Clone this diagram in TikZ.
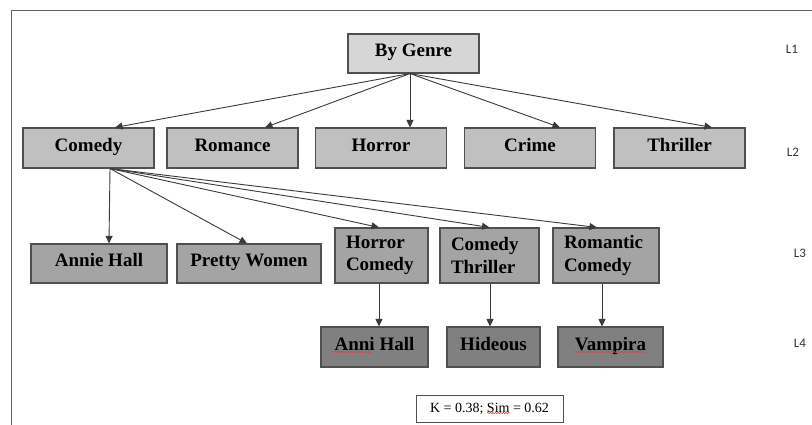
\documentclass[tikz,border=0pt]{standalone}
\usepackage{fontspec}
\setmainfont{Liberation Serif}
\newfontfamily\labfont{Carlito}
\usetikzlibrary{arrows.meta,decorations.pathmorphing}
\definecolor{cA}{HTML}{D6D6D6}
\definecolor{cB}{HTML}{C0C0C0}
\definecolor{cC}{HTML}{A4A4A4}
\definecolor{cD}{HTML}{808080}
\definecolor{bord}{HTML}{505050}
\definecolor{lin}{HTML}{3A3A3A}
\definecolor{labc}{HTML}{333333}
\definecolor{framec}{HTML}{606060}
\definecolor{wavc}{HTML}{D04848}
\begin{document}
\begin{tikzpicture}[x=1pt,y=-1pt,
  box/.style={draw=bord, line width=1.1pt, inner sep=0pt,
    font=\fontsize{19}{22}\selectfont\bfseries,
    text height=12.5pt, text depth=6pt, align=center},
  tbox/.style={draw=bord, line width=1.1pt, inner ysep=0pt, inner xsep=11pt,
    font=\fontsize{19}{22.5}\selectfont\bfseries, align=left,
    minimum height=55pt, fill=cC},
  arr/.style={draw=lin, line width=0.9pt, -{Triangle[length=7.5pt,width=7pt]}},
  lab/.style={font=\labfont\fontsize{13}{15}\selectfont, text=labc, inner sep=0pt},
  wav/.style={draw=wavc, line width=0.6pt, decorate,
    decoration={snake, amplitude=0.7pt, segment length=2.6pt}},
  frame/.style={draw=framec, line width=1pt}
]
\useasboundingbox (0,0) rectangle (812,425);
\fill[white] (0,0) rectangle (812,425);
\draw[frame] (11,425) -- (11,11) -- (812,11);

% L1
\node[box, fill=cA, minimum width=131pt, minimum height=39pt] (bg) at (413.5,53.5) {By Genre};
% L2
\node[box, fill=cB, minimum width=131pt, minimum height=40pt] (co) at (88.5,148) {Comedy};
\node[box, fill=cB, minimum width=131pt, minimum height=40pt] (ro) at (232.5,148) {Romance};
\node[box, fill=cB, minimum width=131pt, minimum height=40pt] (ho) at (381,148) {Horror};
\node[box, fill=cB, minimum width=131pt, minimum height=40pt] (cr) at (530,148) {Crime};
\node[box, fill=cB, minimum width=131pt, minimum height=40pt] (th) at (679.5,148) {Thriller};
% L3
\node[box, fill=cC, minimum width=136pt, minimum height=39pt] (an) at (99,263.5) {Annie Hall};
\node[box, fill=cC, minimum width=144pt, minimum height=39pt] (pw) at (249,263.5) {Pretty Women};
\node[tbox, text width=71pt] (hc) at (381.5,255.5) {Horror\\Comedy};
\node[tbox, text width=77pt] (ct) at (489.5,255.5) {Comedy\\Thriller};
\node[tbox, text width=84pt] (rc) at (606,255.5) {Romantic\\Comedy};
% L4
\node[box, fill=cD, minimum width=107pt, minimum height=40pt] (ah) at (374.5,347) {Anni Hall};
\node[box, fill=cD, minimum width=93pt, minimum height=40pt] (hi) at (493.5,347) {Hideous};
\node[box, fill=cD, minimum width=105pt, minimum height=40pt] (va) at (610.5,347) {Vampira};

% K box
\node[draw=bord, line width=0.8pt, fill=white, minimum width=147pt, minimum height=27pt,
  inner sep=0pt, font=\fontsize{14}{16}\selectfont] (k) at (489.5,408.5) {K = 0.38; Sim = 0.62};

% level labels
\node[lab] (l1) at (792,49) {L1};
\node[lab] (l2) at (793,152) {L2};
\node[lab] (l3) at (800,253) {L3};
\node[lab] (l4) at (800,343) {L4};

% arrows L1 -> L2
\draw[arr] ([xshift=-3.5pt]bg.south) -- ([xshift=26.5pt]co.north);
\draw[arr] ([xshift=-3.5pt]bg.south) -- ([xshift=32.5pt]ro.north);
\draw[arr] ([xshift=-3.5pt]bg.south) -- ([xshift=29pt]ho.north);
\draw[arr] ([xshift=-3.5pt]bg.south) -- ([xshift=30pt]cr.north);
\draw[arr] ([xshift=-3.5pt]bg.south) -- ([xshift=32.5pt]th.north);
% arrows Comedy -> L3
\draw[arr] ([xshift=21.5pt]co.south) -- ([xshift=10pt]an.north);
\draw[arr] ([xshift=21.5pt]co.south) -- ([xshift=-2pt]pw.north);
\draw[arr] ([xshift=21.5pt]co.south) -- ([xshift=-2.5pt]hc.north);
\draw[arr] ([xshift=21.5pt]co.south) -- (ct.north);
\draw[arr] ([xshift=21.5pt]co.south) -- ([xshift=-9pt]rc.north);
% arrows L3 -> L4
\draw[arr] ([xshift=-2.5pt]hc.south) -- ([xshift=4.5pt]ah.north);
\draw[arr] ([xshift=0.5pt]ct.south) -- ([xshift=-3.5pt]hi.north);
\draw[arr] ([xshift=-4pt]rc.south) -- ([xshift=-8.5pt]va.north);

% spell-check underlines
\draw[wav] ([xshift=-42.5pt,yshift=-5pt]ah.center) -- ([xshift=-3pt,yshift=-5pt]ah.center);
\draw[wav] ([xshift=-36pt,yshift=-5pt]va.center) -- ([xshift=35pt,yshift=-5pt]va.center);
\draw[wav] ([xshift=-2.5pt,yshift=-4.5pt]k.center) -- ([xshift=20pt,yshift=-4.5pt]k.center);
\end{tikzpicture}
\end{document}
